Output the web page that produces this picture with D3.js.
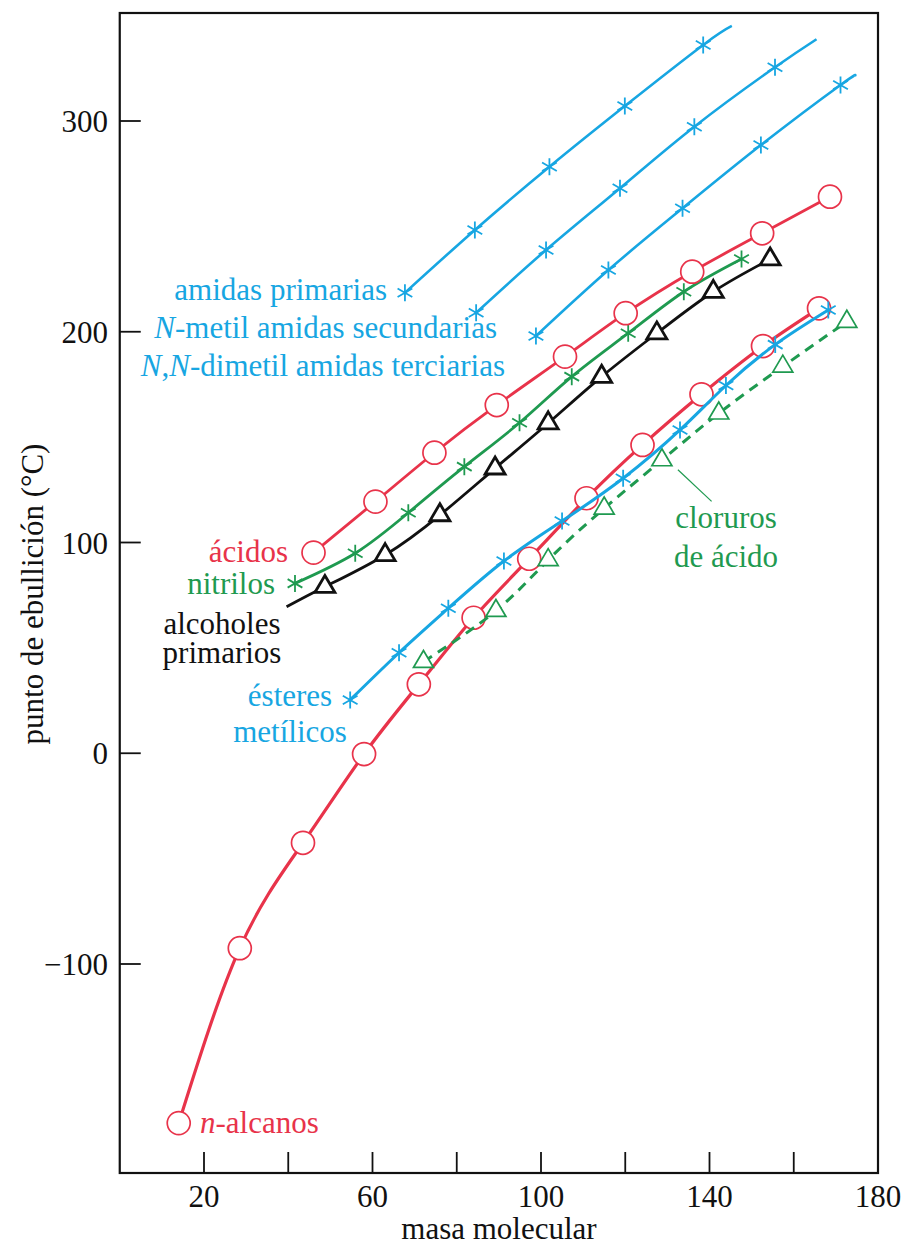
<!DOCTYPE html>
<html>
<head>
<meta charset="utf-8">
<script src="https://cdn.jsdelivr.net/npm/d3@7"></script>
<style>
  html, body { margin: 0; padding: 0; background: #fff; }
  svg { display: block; }
  text { font-family: "Liberation Serif", "Times New Roman", serif; }
</style>
</head>
<body>
<svg id="chart" width="908" height="1245"></svg>
<script>
// ---------- data ----------
const xTicks = [20, 40, 60, 80, 100, 120, 140, 160];
const xTickLabels = [20, 60, 100, 140, 180];
const yTicks = [300, 200, 100, 0, -100];

const alcanosX = [14, 28.5, 43.5, 58, 71, 84, 97.2, 110.8, 124.1, 138.1, 152.7, 166];
const alcanosY = [-175.5, -92.5, -42.5, -0.4, 32.7, 64.3, 92.3, 121, 146.3, 170.3, 193.2, 211.1];

const acidosX = [46, 60.7, 74.7, 89.5, 105.7, 120.1, 135.9, 152.5, 168.6];
const acidosY = [95.2, 119.4, 142.6, 165.2, 188.2, 208.8, 228.5, 246.7, 264.1];

const nitrilosX = [41.6, 55.9, 68.5, 81.8, 94.9, 107.3, 120.7, 133.9, 147.6];
const nitrilosY = [80.6, 94.9, 114.1, 136.0, 156.8, 178.7, 199.3, 219.0, 234.5];

const alcoholesX = [39.6, 48.7, 63.0, 76.0, 89.1, 101.7, 114.4, 127.5, 140.9, 154.4];
const alcoholesY = [69.5, 79.0, 94.1, 113.0, 135.2, 156.6, 178.7, 199.3, 219.0, 234.4];
const alcoholesMarked = [0, 1, 1, 1, 1, 1, 1, 1, 1, 1];

const amidasPrimX = [67.7, 84.3, 102.0, 119.9, 138.5, 145.3];
const amidasPrimY = [218.5, 248.3, 278.3, 307.1, 336.1, 345.1];
const amidasPrimMarked = [1, 1, 1, 1, 1, 0];

const amidasSecX = [84.6, 101.2, 118.75, 136.4, 155.55, 165.4];
const amidasSecY = [209.0, 238.8, 268.1, 297.3, 325.5, 338.8];
const amidasSecMarked = [1, 1, 1, 1, 1, 0];

const amidasTerX = [98.8, 116.0, 133.6, 152.2, 171.1, 174.5];
const amidasTerY = [198.0, 229.3, 258.6, 288.6, 317.1, 321.3];
const amidasTerMarked = [1, 1, 1, 1, 1, 0];

const esteresX = [54.7, 66.3, 78.0, 91.2, 105.0, 119.5, 133.0, 143.9, 155.6, 168.2];
const esteresY = [25.3, 47.7, 68.8, 91.2, 110.2, 130.5, 153.4, 174.5, 193.9, 210.3];

const clorurosX = [72.1, 89.3, 101.7, 115.0, 128.7, 142.2, 157.4, 172.6];
const clorurosY = [43.4, 67.6, 91.7, 116.2, 139.1, 161.3, 183.5, 204.8];

(function () {
// ---------- styles ----------
const RED = "#e8334a", CYAN = "#17a6e2", GREEN = "#1f9a50", BLACK = "#111";

const svg = d3.select("#chart");
const pLeft = 119.75, pRight = 878, pTop = 13, pBottom = 1173;

const x = d3.scaleLinear().domain([0, 180]).range([pLeft, pRight]);
const y = d3.scaleLinear().domain([-100, 300]).range([964, 121]);

// frame
svg.append("rect").attr("x", pLeft).attr("y", pTop)
  .attr("width", pRight - pLeft).attr("height", pBottom - pTop)
  .attr("fill", "none").attr("stroke", "#111").attr("stroke-width", 2.2);

// x ticks (inward)
svg.append("g").selectAll("line").data(xTicks).join("line")
  .attr("x1", d => x(d)).attr("x2", d => x(d))
  .attr("y1", pBottom).attr("y2", pBottom - 21)
  .attr("stroke", "#111").attr("stroke-width", 1.8);
svg.append("g").selectAll("text").data(xTickLabels).join("text")
  .attr("x", d => x(d)).attr("y", 1207)
  .attr("text-anchor", "middle").attr("font-size", 31).attr("fill", "#111")
  .text(d => d);

// y ticks (inward)
svg.append("g").selectAll("line").data(yTicks).join("line")
  .attr("x1", pLeft).attr("x2", pLeft + 21)
  .attr("y1", d => y(d)).attr("y2", d => y(d))
  .attr("stroke", "#111").attr("stroke-width", 1.8);
svg.append("g").selectAll("text").data(yTicks).join("text")
  .attr("x", 108).attr("y", d => y(d) + 11)
  .attr("text-anchor", "end").attr("font-size", 31).attr("fill", "#111")
  .text(d => d < 0 ? "\u2212" + Math.abs(d) : d);

// axis titles
svg.append("text").attr("x", 499).attr("y", 1239)
  .attr("text-anchor", "middle").attr("font-size", 31).attr("fill", "#111")
  .text("masa molecular");
svg.append("text").attr("transform", "translate(43,594) rotate(-90)")
  .attr("text-anchor", "middle").attr("font-size", 31).attr("fill", "#111")
  .text("punto de ebullición (°C)");

// ---------- helpers ----------
const line = d3.line().x(d => x(d[0])).y(d => y(d[1])).curve(d3.curveNatural);
function pts(xs, ys) { return xs.map((v, i) => [v, ys[i]]); }

function drawLine(data, color, width, dash) {
  svg.append("path").datum(data).attr("d", line)
    .attr("fill", "none").attr("stroke", color).attr("stroke-width", width)
    .attr("stroke-linejoin", "round").attr("stroke-linecap", "butt")
    .attr("stroke-dasharray", dash || null);
}
function drawCircles(data, color) {
  svg.append("g").selectAll("circle").data(data).join("circle")
    .attr("cx", d => x(d[0])).attr("cy", d => y(d[1])).attr("r", 11.5)
    .attr("fill", "#fff").attr("stroke", color).attr("stroke-width", 1.7);
}
function triPath(s, h) {
  return `M0,${-2 * h / 3}L${s / 2},${h / 3}L${-s / 2},${h / 3}Z`;
}
function drawTriangles(data, color, sw) {
  svg.append("g").selectAll("path").data(data).join("path")
    .attr("transform", d => `translate(${x(d[0])},${y(d[1])})`)
    .attr("d", triPath(20, 17))
    .attr("fill", "#fff").attr("stroke", color).attr("stroke-width", sw)
    .attr("stroke-linejoin", "miter");
}
function starPath(r) {
  const a = r * Math.cos(Math.PI / 6), b = r * Math.sin(Math.PI / 6);
  return `M0,${-r}L0,${r}M${-a},${-b}L${a},${b}M${-a},${b}L${a},${-b}`;
}
function drawStars(data, color) {
  svg.append("g").selectAll("path").data(data).join("path")
    .attr("transform", d => `translate(${x(d[0])},${y(d[1])})`)
    .attr("d", starPath(8.5))
    .attr("fill", "none").attr("stroke", color).attr("stroke-width", 1.8);
}
function marked(data, flags) { return data.filter((d, i) => flags[i]); }

// ---------- series ----------
const amP = pts(amidasPrimX, amidasPrimY);
drawLine(amP, CYAN, 2.6); drawStars(marked(amP, amidasPrimMarked), CYAN);
const amS = pts(amidasSecX, amidasSecY);
drawLine(amS, CYAN, 2.6); drawStars(marked(amS, amidasSecMarked), CYAN);
const amT = pts(amidasTerX, amidasTerY);
drawLine(amT, CYAN, 2.6); drawStars(marked(amT, amidasTerMarked), CYAN);

const alc = pts(alcoholesX, alcoholesY);
drawLine(alc, BLACK, 2.8); drawTriangles(marked(alc, alcoholesMarked), BLACK, 2.8);

const nit = pts(nitrilosX, nitrilosY);
drawLine(nit, GREEN, 2.8); drawStars(nit, GREEN);

const aci = pts(acidosX, acidosY);
drawLine(aci, RED, 2.8); drawCircles(aci, RED);

const alk = pts(alcanosX, alcanosY);
drawLine(alk, RED, 3.2); drawCircles(alk, RED);

const clo = pts(clorurosX, clorurosY);
drawLine(clo, GREEN, 3, "10,7"); drawTriangles(clo, GREEN, 1.7);

const est = pts(esteresX, esteresY);
drawLine(est, CYAN, 3); drawStars(est, CYAN);

// ---------- labels ----------
function label(lines, xp, yp, color, anchor, lh) {
  const t = svg.append("text").attr("x", xp).attr("y", yp)
    .attr("font-size", 31).attr("fill", color).attr("text-anchor", anchor || "end");
  lines.forEach((parts, li) => {
    parts.forEach((p, pi) => {
      const s = t.append("tspan").text(p[0]);
      if (pi === 0 && li > 0) s.attr("x", xp).attr("dy", lh);
      if (p[1]) s.attr("font-style", "italic");
    });
  });
  return t;
}
label([[["amidas primarias"]]], 387, 300, CYAN);
label([[["N", 1], ["-metil amidas secundarias"]]], 497, 338, CYAN);
label([[["N", 1], [","], ["N", 1], ["-dimetil amidas terciarias"]]], 505, 376, CYAN);
label([[["ácidos"]]], 288, 562, RED);
label([[["nitrilos"]]], 275, 594, GREEN);
label([[["alcoholes"]], [["primarios"]]], 222, 634, BLACK, "middle", 29);
label([[["ésteres"]], [["metílicos"]]], 290, 706, CYAN, "middle", 36);
label([[["n", 1], ["-alcanos"]]], 200, 1133, RED, "start");
label([[["cloruros"]], [["de ácido"]]], 726, 528, GREEN, "middle", 39);

// leader line for cloruros
svg.append("line").attr("x1", x(132.5)).attr("y1", y(134.5))
  .attr("x2", x(140.5)).attr("y2", y(119.5))
  .attr("stroke", GREEN).attr("stroke-width", 1.2);
})();
</script>
</body>
</html>
